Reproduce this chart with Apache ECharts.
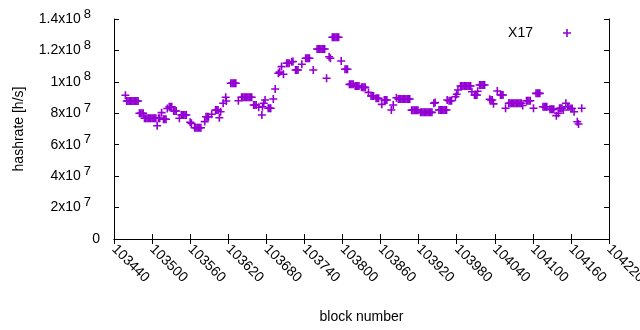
<!DOCTYPE html>
<html lang="en">
<head>
<meta charset="UTF-8">
<title>hashrate</title>
<script src="https://cdn.jsdelivr.net/npm/echarts@6/dist/echarts.min.js"></script>
<style>
    body { margin: 0; background: #fff; }
    #chart { width: 640px; height: 330px; }
</style>
</head>
<body>
<div id="chart"></div>
<script>
    var seriesName = 'X17';

    // block number / hashrate [h/s] (runs of equal values are listed point by point)
    var blocks = [
        103458,
        103460, 103462, 103464, 103466, 103468, 103470, 103472, 103474, 103476, 103478,
        103480, 103482, 103484, 103486,
        103488, 103490, 103492, 103494, 103496, 103498, 103500, 103502, 103504, 103506, 103510, 103512,
        103508, 103515,
        103518, 103520, 103522, 103524,
        103527, 103529, 103531,
        103534, 103536, 103538,
        103543,
        103546, 103548, 103550, 103552, 103554,
        103560, 103562,
        103567, 103569, 103571, 103573, 103575, 103577,
        103583,
        103585, 103587, 103589,
        103594,
        103600, 103602, 103604,
        103606, 103608, 103612, 103616, 103617,
        103624, 103626, 103628, 103630, 103632,
        103636,
        103641, 103643, 103645, 103647, 103649, 103651, 103653, 103655, 103657,
        103660, 103662, 103664,
        103668, 103673, 103674, 103676, 103678,
        103683, 103685, 103687,
        103691, 103694, 103699, 103701, 103704, 103707,
        103712, 103714, 103716,
        103720, 103722,
        103726, 103728, 103730,
        103736,
        103742, 103744, 103746, 103748,
        103754,
        103760, 103762, 103764, 103766, 103768, 103770, 103772,
        103775, 103779, 103781,
        103784, 103786, 103788, 103790, 103792, 103794,
        103798,
        103804, 103806, 103808,
        103811, 103813, 103815, 103817,
        103820, 103822, 103824, 103826,
        103830, 103832, 103834, 103836,
        103841,
        103845, 103847, 103849,
        103853, 103855, 103857,
        103862,
        103866, 103868, 103870,
        103877, 103880, 103885,
        103888, 103890, 103892, 103894, 103896, 103898, 103900, 103902, 103904, 103906,
        103909, 103911, 103913, 103915, 103917, 103919,
        103923, 103925, 103927, 103929, 103931, 103933, 103935, 103937, 103939, 103941,
        103944, 103946,
        103952, 103954, 103956, 103958, 103960, 103962, 103964,
        103965,
        103968, 103970, 103972,
        103978, 103980, 103982,
        103986, 103988, 103990, 103992, 103994, 103996, 103998, 104000, 104002,
        104004,
        104008, 104010, 104012,
        104013,
        104016, 104018, 104020, 104022, 104024,
        104032, 104034, 104036, 104038, 104044,
        104049, 104051, 104053,
        104057,
        104062, 104064, 104066, 104068, 104070, 104072, 104074, 104076, 104078, 104080, 104082,
        104084,
        104090, 104092, 104094, 104096,
        104101,
        104105, 104107, 104109, 104111,
        104116, 104118, 104120, 104122,
        104127, 104129, 104131, 104133,
        104137, 104140,
        104142, 104144, 104146,
        104148, 104152, 104155, 104157, 104160, 104162, 104165,
        104170, 104172, 104177
    ];
    var hashrate = [
        9.15e7,
        8.78e7, 8.78e7, 8.78e7, 8.78e7, 8.78e7, 8.78e7, 8.78e7, 8.78e7, 8.78e7, 8.78e7,
        8.0e7, 8.0e7, 8.0e7, 8.0e7,
        7.68e7, 7.68e7, 7.68e7, 7.68e7, 7.68e7, 7.68e7, 7.68e7, 7.68e7, 7.68e7, 7.68e7, 7.68e7, 7.68e7,
        7.21e7, 8.04e7,
        7.62e7, 7.62e7, 7.62e7, 8.30e7,
        8.42e7, 8.42e7, 8.42e7,
        8.15e7, 8.15e7, 8.15e7,
        7.68e7,
        7.89e7, 7.89e7, 7.89e7, 7.89e7, 7.89e7,
        7.43e7, 7.36e7,
        7.08e7, 7.08e7, 7.08e7, 7.08e7, 7.08e7, 7.08e7,
        7.47e7,
        7.78e7, 7.78e7, 7.78e7,
        7.94e7,
        8.21e7, 8.21e7, 8.21e7,
        7.72e7, 8.10e7, 8.64e7, 9.02e7, 8.78e7,
        9.91e7, 9.91e7, 9.91e7, 9.91e7, 9.91e7,
        8.8e7,
        9.02e7, 9.02e7, 9.02e7, 9.02e7, 9.02e7, 9.02e7, 9.02e7, 9.02e7, 9.02e7,
        8.53e7, 8.53e7, 8.53e7,
        8.38e7, 7.89e7, 8.42e7, 8.64e7, 8.85e7,
        8.32e7, 8.32e7, 8.32e7,
        8.91e7, 9.55e7, 10.55e7, 10.62e7, 10.97e7, 10.48e7,
        11.18e7, 11.18e7, 11.18e7,
        11.28e7, 11.3e7,
        10.75e7, 10.75e7, 10.75e7,
        11.12e7,
        11.5e7, 11.5e7, 11.5e7, 11.5e7,
        10.75e7,
        12.09e7, 12.09e7, 12.09e7, 12.09e7, 12.09e7, 12.09e7, 12.09e7,
        10.23e7, 11.6e7, 11.5e7,
        12.84e7, 12.84e7, 12.84e7, 12.84e7, 12.84e7, 12.84e7,
        11.33e7,
        10.8e7, 10.8e7, 10.8e7,
        9.84e7, 9.84e7, 9.84e7, 9.84e7,
        9.74e7, 9.74e7, 9.74e7, 9.74e7,
        9.65e7, 9.65e7, 9.65e7, 9.65e7,
        9.33e7,
        9.1e7, 9.1e7, 9.1e7,
        8.95e7, 8.95e7, 8.95e7,
        8.57e7,
        8.85e7, 8.85e7, 8.85e7,
        8.21e7, 8.53e7, 8.99e7,
        8.91e7, 8.91e7, 8.91e7, 8.91e7, 8.91e7, 8.91e7, 8.91e7, 8.91e7, 8.91e7, 8.91e7,
        8.2e7, 8.2e7, 8.2e7, 8.2e7, 8.2e7, 8.2e7,
        8.06e7, 8.06e7, 8.06e7, 8.06e7, 8.06e7, 8.06e7, 8.06e7, 8.06e7, 8.06e7, 8.06e7,
        8.64e7, 8.68e7,
        8.21e7, 8.21e7, 8.21e7, 8.21e7, 8.21e7, 8.21e7, 8.21e7,
        8.85e7,
        8.8e7, 8.8e7, 8.8e7,
        9.05e7, 9.21e7, 9.48e7,
        9.74e7, 9.74e7, 9.74e7, 9.74e7, 9.74e7, 9.74e7, 9.74e7, 9.74e7, 9.74e7,
        9.37e7,
        9.16e7, 9.16e7, 9.16e7,
        9.4e7,
        9.8e7, 9.8e7, 9.8e7, 9.8e7, 9.8e7,
        8.89e7, 8.85e7, 8.85e7, 8.6e7, 9.42e7,
        9.16e7, 9.16e7, 9.16e7,
        8.32e7,
        8.64e7, 8.64e7, 8.64e7, 8.64e7, 8.64e7, 8.64e7, 8.64e7, 8.64e7, 8.64e7, 8.64e7, 8.64e7,
        8.5e7,
        8.8e7, 8.8e7, 8.8e7, 8.8e7,
        8.32e7,
        9.27e7, 9.27e7, 9.27e7, 9.27e7,
        8.42e7, 8.42e7, 8.42e7, 8.42e7,
        8.25e7, 8.25e7, 8.25e7, 8.25e7,
        7.85e7, 8.0e7,
        8.32e7, 8.32e7, 8.32e7,
        8.21e7, 8.64e7, 8.42e7, 8.42e7, 8.3e7, 8.3e7, 8.1e7,
        7.46e7, 7.32e7, 8.32e7
    ];

    // y tick labels: mantissa x 10^exponent
    var yTicks = [0, 2e7, 4e7, 6e7, 8e7, 1e8, 1.2e8, 1.4e8];
    var yMantissa = ['0', '2', '4', '6', '8', '1', '1.2', '1.4'];
    var yExponent = ['', '7', '7', '7', '7', '8', '8', '8'];

    var plusPath = 'path://M0,3.2H3.2V0H4.8V3.2H8V4.8H4.8V8H3.2V4.8H0Z';
    var purple = '#9400d3';
    var font = 'Liberation Sans';

    var points = [];
    for (var i = 0; i < blocks.length; i++) {
        points.push([blocks[i], hashrate[i]]);
    }

    var frameLine = { show: true, lineStyle: { color: '#000', width: 1 } };
    var innerTick = { show: true, inside: true, length: 5, lineStyle: { color: '#000', width: 1 } };

    var chart = echarts.init(document.getElementById('chart'));
    chart.setOption({
        animation: false,
        backgroundColor: '#fff',
        textStyle: { fontFamily: font },
        grid: { left: 114, right: 31, top: 19, bottom: 91, outerBoundsMode: 'none', containLabel: false },
        legend: {
            data: [{ name: seriesName, icon: plusPath }],
            right: 64, top: 21,
            align: 'right',
            itemWidth: 58, itemHeight: 8,
            symbolKeepAspect: true,
            textStyle: { fontSize: 14, color: '#000', fontFamily: font }
        },
        xAxis: [{
            type: 'value',
            position: 'bottom',
            min: 103440, max: 104220, interval: 60,
            axisLine: frameLine,
            axisTick: innerTick,
            splitLine: { show: false },
            axisLabel: {
                rotate: -45, color: '#000', fontSize: 14, fontFamily: font, margin: 8,
                formatter: function (v) { return String(v); }
            },
            name: 'block number',
            nameLocation: 'middle',
            nameGap: 71,
            nameTextStyle: { fontSize: 14, color: '#000', fontFamily: font }
        }, {
            type: 'value',
            position: 'top',
            min: 103440, max: 104220, interval: 60,
            axisLine: frameLine,
            axisTick: innerTick,
            splitLine: { show: false },
            axisLabel: { show: false }
        }],
        yAxis: [{
            type: 'value',
            position: 'left',
            min: 0, max: 1.4e8, interval: 2e7,
            axisLine: frameLine,
            axisTick: innerTick,
            splitLine: { show: false },
            axisLabel: {
                margin: 14,
                formatter: function (v) {
                    var k = yTicks.indexOf(v);
                    if (k < 0) return '';
                    if (yExponent[k] === '') return '{m|' + yMantissa[k] + '}';
                    return '{m|' + yMantissa[k] + 'x10}{e|' + yExponent[k] + '}';
                },
                rich: {
                    m: { fontSize: 14, color: '#000', fontFamily: font },
                    e: { fontSize: 13, color: '#000', fontFamily: font, padding: [0, 9, 10, 3] }
                }
            },
            name: 'hashrate [h/s]',
            nameLocation: 'middle',
            nameGap: 88,
            nameTextStyle: { fontSize: 14, color: '#000', fontFamily: font }
        }, {
            type: 'value',
            position: 'right',
            min: 0, max: 1.4e8, interval: 2e7,
            axisLine: frameLine,
            axisTick: innerTick,
            splitLine: { show: false },
            axisLabel: { show: false }
        }],
        series: [{
            name: seriesName,
            type: 'scatter',
            xAxisIndex: 0,
            yAxisIndex: 0,
            symbol: plusPath,
            symbolSize: 8,
            itemStyle: { color: purple, opacity: 1 },
            silent: true,
            data: points
        }]
    });
</script>
</body>
</html>
